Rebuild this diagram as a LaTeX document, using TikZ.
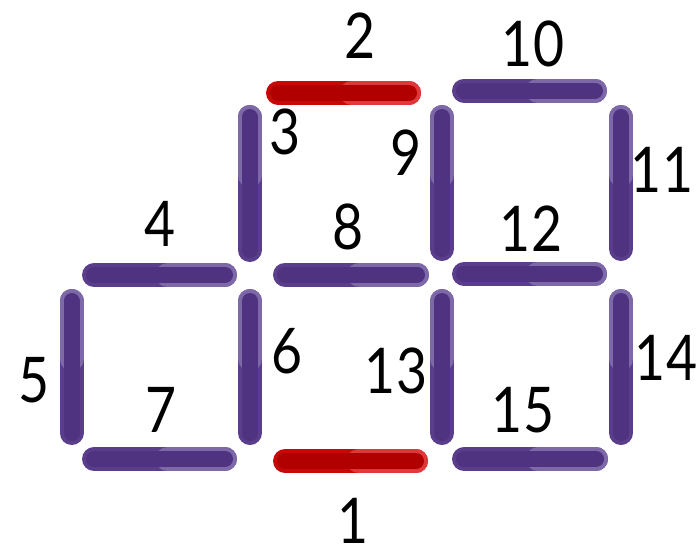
\documentclass[tikz,border=0pt]{standalone}
\usepackage{fontspec}
\setmainfont{Lato}[FakeStretch=0.85]
\definecolor{pb}{HTML}{5A3E8C}
\definecolor{pl}{HTML}{7E69A8}
\definecolor{pi}{HTML}{4F3380}
\definecolor{rb}{HTML}{C80808}
\definecolor{rl}{HTML}{E0383A}
\definecolor{ri}{HTML}{B00000}
\newcommand{\hstk}[4]{%
  \draw[line width=24pt,line cap=round,#4b] (#1+12,#3) -- (#2-12,#3);
  \draw[line width=24pt,line cap=round,#4l] ({(#1+#2)/2+8},#3) -- (#2-12,#3);
  \draw[line width=16pt,line cap=round,#4i] (#1+12,#3) -- (#2-12,#3);}
\newcommand{\vstk}[4]{%
  \draw[line width=24pt,line cap=round,#4b] (#1,#2+12) -- (#1,#3-12);
  \draw[line width=24pt,line cap=round,#4l] (#1,#2+12) -- (#1,{(#2+#3)/2-8});
  \draw[line width=16pt,line cap=round,#4i] (#1,#2+12) -- (#1,#3-12);}
\begin{document}
\begin{tikzpicture}[x=1pt,y=-1pt,
  lbl/.style={inner sep=0pt,font=\fontsize{63}{70}\selectfont,text=black}]
\useasboundingbox (0,0) rectangle (698,544);
% horizontal sticks
\hstk{266}{421}{93}{r}
\hstk{452}{607}{90.5}{p}
\hstk{82}{237}{275}{p}
\hstk{273}{429}{274.5}{p}
\hstk{452}{607}{274}{p}
\hstk{82}{237}{459}{p}
\hstk{273}{428}{461}{r}
\hstk{452}{608}{459}{p}
% vertical sticks
\vstk{249.5}{105}{262}{p}
\vstk{442}{105}{261}{p}
\vstk{621}{105}{261}{p}
\vstk{71.5}{289}{445}{p}
\vstk{250}{289}{445}{p}
\vstk{442}{289}{445}{p}
\vstk{621}{289}{445}{p}
% labels
\node[lbl] (l1) at (353,521) {1};
\node[lbl] (l2) at (360,36) {2};
\node[lbl] (l3) at (285,132) {3};
\node[lbl] (l4) at (160,224) {4};
\node[lbl] (l5) at (34,380) {5};
\node[lbl] (l6) at (287,351) {6};
\node[lbl] (l7) at (161,410) {7};
\node[lbl] (l8) at (348,227) {8};
\node[lbl] (l9) at (406,153) {9};
\node[lbl] (l10) at (533,44) {10};
\node[lbl] (l11) at (662,170) {11};
\node[lbl] (l12) at (531,229) {12};
\node[lbl] (l13) at (396,371) {13};
\node[lbl] (l14) at (666,358) {14};
\node[lbl] (l15) at (523,410) {15};
\end{tikzpicture}
\end{document}
